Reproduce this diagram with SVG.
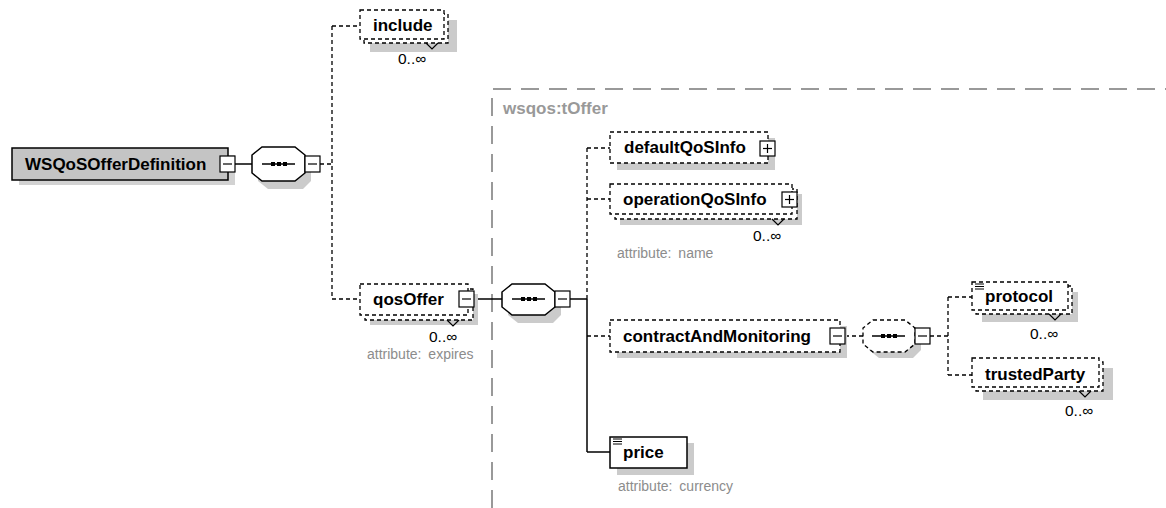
<svg xmlns="http://www.w3.org/2000/svg" width="1166" height="508" viewBox="0 0 1166 508">
<style>
.lbl{font-family:"Liberation Sans",Arial,sans-serif;font-weight:bold;font-size:17px;fill:#000}
.sm{font-family:"Liberation Sans",Arial,sans-serif;font-size:15.5px;fill:#000}
.attr{font-family:"Liberation Sans",Arial,sans-serif;font-size:14px;fill:#8c8c8c;word-spacing:3px}
.sh{fill:#cbcbcb;stroke:none}
.dbox{fill:#fff;stroke:#000;stroke-width:1.3;stroke-dasharray:4 3}
.sbox{fill:#fff;stroke:#000;stroke-width:1.5}
.btn{fill:#fff;stroke:#000;stroke-width:1.2}
.sol{fill:none;stroke:#000;stroke-width:1.5}
.dsh{fill:none;stroke:#000;stroke-width:1.3;stroke-dasharray:4 3}
.tick{fill:none;stroke:#000;stroke-width:1.2}
</style>
<defs>
<g id="minus"><rect class="btn" x="0" y="0" width="15" height="16"/><line x1="3" y1="8" x2="12" y2="8" stroke="#000" stroke-width="1.2"/></g>
<g id="plus"><rect class="btn" x="0" y="0" width="15" height="15"/><line x1="3" y1="7.5" x2="12" y2="7.5" stroke="#000" stroke-width="1.2"/><line x1="7.5" y1="3" x2="7.5" y2="12" stroke="#000" stroke-width="1.2"/></g>
<g id="seqin"><line x1="10" y1="0" x2="43" y2="0" stroke="#000" stroke-width="1.3"/><rect x="19" y="-2" width="4" height="4"/><rect x="25" y="-2" width="4" height="4"/><rect x="31" y="-2" width="4" height="4"/></g>
<g id="mark"><line x1="0" y1="0" x2="9" y2="0" stroke="#000"/><line x1="0" y1="2.5" x2="9" y2="2.5" stroke="#000"/><line x1="0" y1="5" x2="9" y2="5" stroke="#000"/></g>
</defs>

<!-- tOffer frame -->
<g id="frame">
<path d="M492,508 V89 H1166" fill="none" stroke="#999" stroke-width="2" stroke-dasharray="18 10"/>
<text x="503" y="114" class="lbl" style="fill:#999">wsqos:tOffer</text>
</g>

<!-- connectors -->
<g id="connectors">
<line class="sol" x1="235" y1="164" x2="252" y2="164"/>
<line class="dsh" x1="320" y1="164" x2="332" y2="164"/>
<line class="dsh" x1="332" y1="26" x2="332" y2="299"/>
<line class="dsh" x1="332" y1="26" x2="360" y2="26"/>
<line class="dsh" x1="332" y1="299" x2="360" y2="299"/>
<line class="sol" x1="475" y1="299" x2="502" y2="299"/>
<line class="sol" x1="570" y1="299" x2="587" y2="299"/>
<line class="dsh" x1="587" y1="148" x2="587" y2="299"/>
<line class="sol" x1="587" y1="299" x2="587" y2="452"/>
<line class="dsh" x1="587" y1="148" x2="610" y2="148"/>
<line class="dsh" x1="587" y1="199" x2="610" y2="199"/>
<line class="dsh" x1="587" y1="336" x2="610" y2="336"/>
<line class="sol" x1="587" y1="452" x2="610" y2="452"/>
<line class="dsh" x1="845" y1="336" x2="863" y2="336"/>
<line class="dsh" x1="930" y1="336" x2="948" y2="336"/>
<line class="dsh" x1="948" y1="297" x2="948" y2="375"/>
<line class="dsh" x1="948" y1="297" x2="972" y2="297"/>
<line class="dsh" x1="948" y1="375" x2="972" y2="375"/>
</g>

<!-- root -->
<g id="WSQoSOfferDefinition">
<rect x="19" y="155" width="216" height="30" fill="#d2d2d2"/>
<rect x="12" y="148" width="216" height="32" fill="#c4c4c4" stroke="#000" stroke-width="1.5"/>
<text x="25" y="170" class="lbl">WSQoSOfferDefinition</text>
<use href="#minus" x="220" y="156"/>
</g>

<g id="seq1">
<polygon class="sh" points="268,153 303,153 311,161 311,181 303,189 268,189 258,181 258,161"/>
<polygon class="sbox" points="262,147 295,147 305,155 305,173 295,181 262,181 252,173 252,155"/>
<use href="#seqin" x="252" y="164"/>
<use href="#minus" x="305" y="156"/>
</g>

<g id="include">
<rect class="sh" x="370" y="20" width="87" height="32"/>
<rect class="dbox" x="364" y="14" width="84" height="29"/>
<rect class="dbox" x="360" y="10" width="84" height="29"/>
<text x="373" y="31" class="lbl">include</text>
<polyline class="tick" points="426,43 432,49 438,43"/>
<text x="398" y="64" class="sm">0..∞</text>
</g>

<g id="qosOffer">
<rect class="sh" x="370" y="294" width="108" height="31"/>
<rect class="dbox" x="365" y="289" width="108" height="31"/>
<rect class="dbox" x="360" y="284" width="108" height="31"/>
<text x="373" y="305" class="lbl">qosOffer</text>
<use href="#minus" x="459" y="291"/>
<polyline class="tick" points="447,320 453,326 459,320"/>
<text x="429" y="342" class="sm">0..∞</text>
<text x="367" y="359" class="attr">attribute: expires</text>
</g>

<g id="seq2">
<polygon class="sh" points="518,290 553,290 561,298 561,315 553,323 518,323 508,315 508,298"/>
<polygon class="sbox" points="512,284 545,284 555,292 555,307 545,315 512,315 502,307 502,292"/>
<use href="#seqin" x="502" y="299"/>
<use href="#minus" x="555" y="291"/>
</g>

<g id="defaultQoSInfo">
<rect class="sh" x="617" y="138" width="158" height="32"/>
<rect class="dbox" x="610" y="132" width="158" height="31"/>
<text x="624" y="153" class="lbl">defaultQoSInfo</text>
<use href="#plus" x="760" y="141"/>
</g>

<g id="operationQoSInfo">
<rect class="sh" x="620" y="194" width="182" height="31"/>
<rect class="dbox" x="615" y="189" width="182" height="30"/>
<rect class="dbox" x="610" y="184" width="182" height="30"/>
<text x="623" y="205" class="lbl">operationQoSInfo</text>
<use href="#plus" x="782" y="192"/>
<polyline class="tick" points="772,219 778,225 784,219"/>
<text x="753" y="241" class="sm">0..∞</text>
<text x="617" y="258" class="attr">attribute: name</text>
</g>

<g id="contractAndMonitoring">
<rect class="sh" x="617" y="326" width="230" height="32"/>
<rect class="dbox" x="610" y="320" width="230" height="32"/>
<text x="623" y="342" class="lbl">contractAndMonitoring</text>
<use href="#minus" x="830" y="328"/>
</g>

<g id="seq3">
<polygon class="sh" points="879,326 913,326 921,334 921,350 913,358 879,358 869,350 869,334"/>
<polygon class="dbox" points="873,320 905,320 915,328 915,344 905,352 873,352 863,344 863,328"/>
<use href="#seqin" x="862" y="336"/>
<use href="#minus" x="915" y="328"/>
</g>

<g id="protocol">
<rect class="sh" x="982" y="292" width="96" height="30"/>
<rect class="dbox" x="976" y="286" width="96" height="28"/>
<rect class="dbox" x="972" y="282" width="96" height="28"/>
<use href="#mark" x="975" y="284"/>
<text x="985" y="302" class="lbl">protocol</text>
<polyline class="tick" points="1049,314 1055,320 1061,314"/>
<text x="1030" y="339" class="sm">0..∞</text>
</g>

<g id="trustedParty">
<rect class="sh" x="983" y="368" width="130" height="32"/>
<rect class="dbox" x="976" y="362" width="127" height="29"/>
<rect class="dbox" x="972" y="358" width="127" height="29"/>
<text x="985" y="380" class="lbl">trustedParty</text>
<polyline class="tick" points="1079,391 1085,397 1091,391"/>
<text x="1065" y="416" class="sm">0..∞</text>
</g>

<g id="price">
<rect class="sh" x="617" y="443" width="77" height="32"/>
<rect class="sbox" x="610" y="437" width="77" height="31"/>
<use href="#mark" x="613" y="439"/>
<text x="623" y="458" class="lbl">price</text>
<text x="618" y="491" class="attr">attribute: currency</text>
</g>
</svg>
